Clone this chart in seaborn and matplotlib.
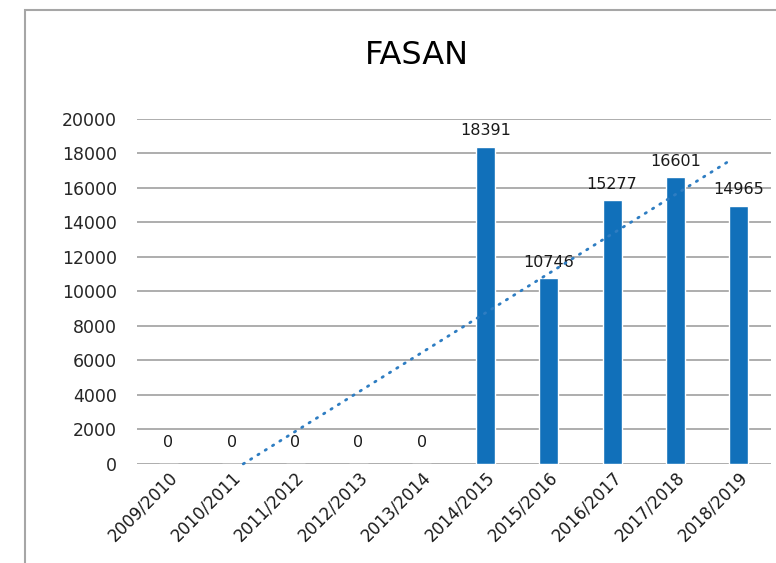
import numpy as np
import pandas as pd
import matplotlib.pyplot as plt
import seaborn as sns
from matplotlib.patches import Rectangle

# Data
seasons = ['2009/2010', '2010/2011', '2011/2012', '2012/2013', '2013/2014',
           '2014/2015', '2015/2016', '2016/2017', '2017/2018', '2018/2019']
counts = [0, 0, 0, 0, 0, 18391, 10746, 15277, 16601, 14965]

df = pd.DataFrame({'Season': seasons, 'Count': counts})

sns.set_theme(style="white")
plt.rcParams['font.family'] = ['DejaVu Sans Condensed', 'DejaVu Sans']

fig = plt.figure(figsize=(7.76, 5.63), dpi=100)
ax = fig.add_axes([0.176, 0.176, 0.817, 0.613])

# Chart border
fig.patches.append(Rectangle((25 / 776, -0.1), 1.2, 1 - 10 / 563 + 0.1,
                             transform=fig.transFigure, fill=False,
                             edgecolor='#a6a6a6', linewidth=1.5))

sns.barplot(data=df, x='Season', y='Count', color='#1170ba', width=0.3,
            saturation=1, ax=ax, zorder=3)

# Linear trendline
x = np.arange(len(counts))
slope, intercept = np.polyfit(x, counts, 1)
x0 = -intercept / slope
xt = np.linspace(x0, len(counts) - 1.1, 100)
ax.plot(xt, slope * xt + intercept, linestyle=(0, (0.5, 2.6)), color='#2e7dc2',
        linewidth=2.0, dash_capstyle='round', zorder=4, clip_on=False)

# Data labels
for i, v in enumerate(counts):
    ax.annotate(str(v), (i, v), xytext=(0, 6 if v > 0 else 10), textcoords='offset points',
                ha='center', va='bottom', fontsize=11.5, color='#1a1a1a')

ax.set_ylim(0, 20000)
ax.set_xlim(-0.5, 9.5)
ax.set_yticks(range(0, 20001, 2000))
ax.yaxis.grid(True, color='#a0a0a0', linewidth=1.2)
ax.set_axisbelow(True)
for s in ax.spines.values():
    s.set_visible(False)
ax.set_xlabel('')
ax.set_ylabel('')
ax.tick_params(axis='y', labelsize=12.5, pad=14, labelcolor='#262626', length=0)
ax.tick_params(axis='x', labelsize=12, pad=3, labelcolor='#1a1a1a', length=0)
ax.set_yticklabels([str(t) for t in range(0, 20001, 2000)], family='DejaVu Sans')
plt.setp(ax.get_xticklabels(), rotation=45, ha='right', rotation_mode='anchor')

fig.text(0.537, 0.902, 'FASAN', ha='center', va='center', fontsize=23, color='#000000')

plt.savefig('out.png', dpi=100)
plt.close()
